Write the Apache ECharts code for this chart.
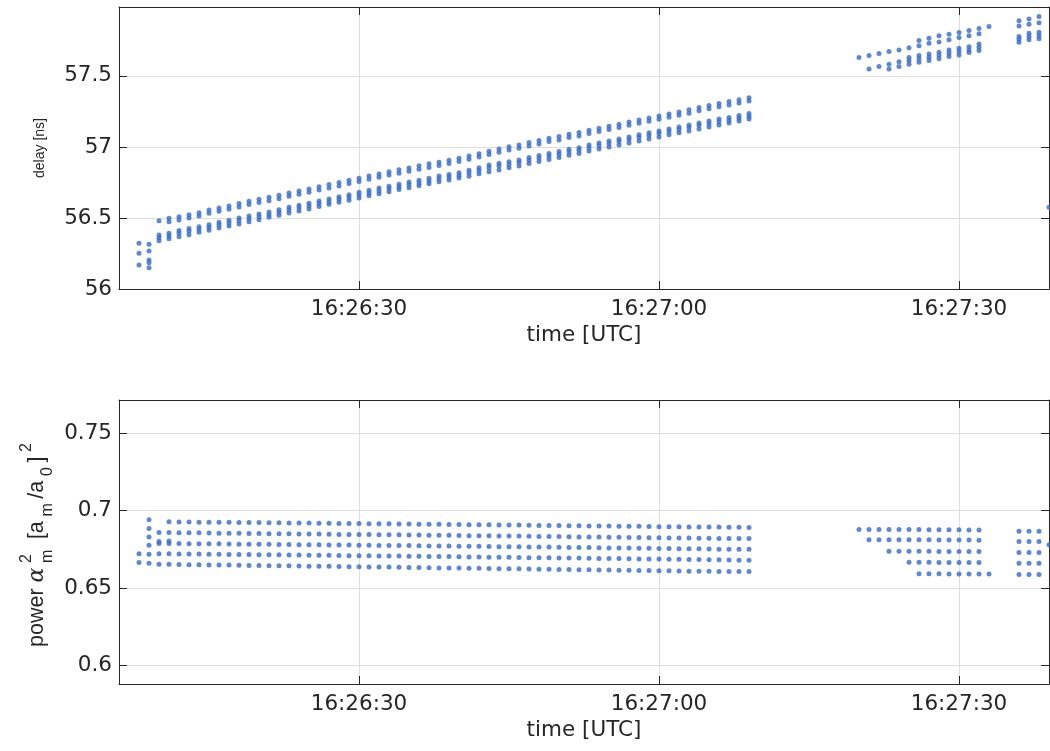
<!DOCTYPE html>
<html><head><meta charset="utf-8">
<script src="https://cdn.jsdelivr.net/npm/echarts@6/dist/echarts.min.js"></script>
<style>html,body{margin:0;padding:0;background:#fff}#c{width:1050px;height:751px}</style>
</head><body><div id="c"></div>
<script>
// x values are seconds after 16:26:00 UTC
const xTickValues = [30, 60, 90];
const xTickLabels = ['16:26:30', '16:27:00', '16:27:30'];
const delayTickValues = [56, 56.5, 57, 57.5];
const delayTickLabels = ['56', '56.5', '57', '57.5'];
const powerTickValues = [0.6, 0.65, 0.7, 0.75];
const powerTickLabels = ['0.6', '0.65', '0.7', '0.75'];

// ---- delay [ns] ----
const delayEarlyCols = [
  [8, 56.322, 56.251, 56.169],
  [9, 56.315, 56.268, 56.204, 56.185, 56.150]
];
const delayUpperAStart = 10;
const delayUpperA = [
  56.481,56.498,56.509,56.523,56.537,56.556,56.570,56.585,56.601,56.617,
  56.631,56.646,56.660,56.676,56.690,56.704,56.720,56.735,56.749,56.765,
  56.780,56.796,56.810,56.826,56.839,56.852,56.867,56.881,56.893,56.907,
  56.921,56.937,56.952,56.970,56.986,57.001,57.014,57.031,57.045,57.061,
  57.073,57.089,57.101,57.117,57.131,57.146,57.160,57.176,57.190,57.204,
  57.218,57.232,57.246,57.261,57.277,57.291,57.305,57.319,57.333,57.347
];
const delayUpperBStart = 11;
const delayUpperB = [
  56.474,56.486,56.500,56.514,56.533,56.547,56.561,56.577,56.594,56.608,
  56.622,56.636,56.653,56.667,56.681,56.697,56.711,56.725,56.742,56.756,
  56.773,56.787,56.802,56.815,56.828,56.843,56.856,56.869,56.883,56.898,
  56.913,56.929,56.947,56.962,56.978,56.991,57.007,57.021,57.038,57.049,
  57.066,57.077,57.094,57.108,57.122,57.136,57.153,57.167,57.181,57.195,
  57.209,57.223,57.237,57.254,57.268,57.282,57.296,57.310,57.324
];
const delayLowerStart = 10;
const delayLowerC = [
  56.380,56.392,56.411,56.425,56.439,56.453,56.470,56.484,56.500,56.514,
  56.528,56.542,56.558,56.575,56.589,56.604,56.620,56.634,56.650,56.664,
  56.681,56.695,56.711,56.724,56.737,56.753,56.766,56.779,56.795,56.806,
  56.818,56.836,56.854,56.872,56.885,56.895,56.908,56.925,56.939,56.953,
  56.967,56.984,56.995,57.014,57.028,57.042,57.056,57.070,57.085,57.099,
  57.113,57.127,57.141,57.155,57.169,57.183,57.197,57.207,57.221,57.235
];
const delayLowerD = [
  56.361,56.373,56.392,56.406,56.420,56.434,56.451,56.465,56.481,56.495,
  56.509,56.523,56.540,56.556,56.570,56.585,56.601,56.615,56.632,56.646,
  56.662,56.676,56.692,56.705,56.718,56.734,56.747,56.760,56.776,56.788,
  56.799,56.817,56.835,56.853,56.866,56.877,56.890,56.906,56.920,56.934,
  56.948,56.965,56.977,56.995,57.009,57.023,57.038,57.052,57.066,57.080,
  57.094,57.108,57.122,57.136,57.150,57.164,57.178,57.188,57.202,57.216
];
const delayLowerE = [
  56.340,56.354,56.368,56.382,56.399,56.413,56.430,56.444,56.458,56.474,
  56.488,56.505,56.519,56.535,56.549,56.563,56.580,56.596,56.611,56.625,
  56.641,56.657,56.671,56.684,56.700,56.713,56.726,56.741,56.755,56.768,
  56.781,56.794,56.812,56.825,56.838,56.853,56.866,56.883,56.897,56.911,
  56.925,56.941,56.953,56.972,56.986,57.000,57.014,57.028,57.042,57.056,
  57.070,57.085,57.099,57.113,57.127,57.141,57.155,57.169,57.183,57.197
];
const delayLateCols = [
  [80, 57.629],
  [81, 57.643, 57.549],
  [82, 57.657, 57.566],
  [83, 57.671, 57.582, 57.549],
  [84, 57.683, 57.599, 57.566],
  [85, 57.699, 57.629, 57.606, 57.582],
  [86, 57.749, 57.713, 57.643, 57.620, 57.596],
  [87, 57.765, 57.730, 57.655, 57.632, 57.608],
  [88, 57.782, 57.739, 57.667, 57.643, 57.620],
  [89, 57.794, 57.754, 57.683, 57.660, 57.636],
  [90, 57.805, 57.770, 57.695, 57.671, 57.648],
  [91, 57.819, 57.782, 57.706, 57.683, 57.664],
  [92, 57.833, 57.796, 57.725, 57.702, 57.678],
  [93, 57.847],
  [96, 57.889, 57.852, 57.777, 57.758, 57.737],
  [97, 57.901, 57.864, 57.801, 57.777, 57.754],
  [98, 57.918, 57.875, 57.808, 57.784, 57.761],
  [99, 56.575]
];

// ---- power ----
const powerEarlyCols = [
  [8, 0.6721, 0.6665],
  [9, 0.6940, 0.6884, 0.6830, 0.6776, 0.6718, 0.6660],
  [10, 0.6800],
  [11, 0.6804]
];
const powerRow1Start = 11;
const powerRow1 = [
  0.6927,0.6926,0.6926,0.6925,0.6925, 0.6924,0.6924,0.6923,0.6922,0.6922,
  0.6921,0.6921,0.6920,0.6919,0.6919, 0.6918,0.6918,0.6917,0.6916,0.6916,
  0.6915,0.6915,0.6914,0.6913,0.6913, 0.6912,0.6912,0.6911,0.6910,0.6910,
  0.6909,0.6908,0.6908,0.6907,0.6906, 0.6906,0.6905,0.6904,0.6904,0.6903,
  0.6902,0.6902,0.6901,0.6900,0.6900, 0.6899,0.6898,0.6898,0.6897,0.6896,
  0.6896,0.6895,0.6894,0.6894,0.6893, 0.6893,0.6892,0.6892,0.6891
];
const powerRowsStart = 10;
const powerRow2 = [
  0.6858,0.6858,0.6857,0.6856,0.6856, 0.6855,0.6854,0.6854,0.6853,0.6852,
  0.6852,0.6851,0.6850,0.6850,0.6849, 0.6848,0.6848,0.6847,0.6846,0.6846,
  0.6845,0.6845,0.6844,0.6843,0.6843, 0.6842,0.6842,0.6841,0.6841,0.6840,
  0.6839,0.6838,0.6838,0.6837,0.6836, 0.6835,0.6835,0.6834,0.6833,0.6832,
  0.6832,0.6831,0.6830,0.6829,0.6829, 0.6828,0.6827,0.6826,0.6826,0.6825,
  0.6824,0.6823,0.6823,0.6822,0.6821, 0.6821,0.6820,0.6820,0.6819,0.6819
];
const powerRow3 = [
  0.6787,0.6787,
  0.6787,0.6786,0.6786,0.6785,0.6785, 0.6784,0.6783,0.6783,0.6782,0.6782,
  0.6781,0.6781,0.6780,0.6779,0.6779, 0.6778,0.6778,0.6777,0.6776,0.6776,
  0.6775,0.6775,0.6774,0.6774,0.6773, 0.6772,0.6772,0.6771,0.6770,0.6770,
  0.6769,0.6768,0.6767,0.6767,0.6766, 0.6765,0.6764,0.6764,0.6763,0.6762,
  0.6761,0.6761,0.6760,0.6759,0.6758, 0.6758,0.6757,0.6756,0.6755,0.6755,
  0.6754,0.6753,0.6753,0.6752,0.6751, 0.6751,0.6750,0.6750
];
const powerRow4 = [
  0.6721,0.6721,0.6720,0.6719,0.6719, 0.6718,0.6718,0.6717,0.6716,0.6716,
  0.6715,0.6714,0.6714,0.6713,0.6713, 0.6712,0.6711,0.6711,0.6710,0.6709,
  0.6709,0.6708,0.6707,0.6707,0.6706, 0.6705,0.6705,0.6704,0.6703,0.6703,
  0.6702,0.6701,0.6700,0.6699,0.6699, 0.6698,0.6697,0.6696,0.6696,0.6695,
  0.6694,0.6693,0.6693,0.6692,0.6691, 0.6690,0.6690,0.6689,0.6688,0.6687,
  0.6687,0.6686,0.6685,0.6684,0.6684, 0.6683,0.6682,0.6681,0.6680,0.6679
];
const powerRow5 = [
  0.6654,0.6653,0.6652,0.6651,0.6650, 0.6649,0.6649,0.6648,0.6647,0.6646,
  0.6645,0.6644,0.6644,0.6643,0.6642, 0.6641,0.6640,0.6640,0.6639,0.6638,
  0.6637,0.6636,0.6636,0.6635,0.6634, 0.6633,0.6632,0.6631,0.6630,0.6630,
  0.6629,0.6628,0.6627,0.6626,0.6625, 0.6624,0.6624,0.6623,0.6622,0.6621,
  0.6620,0.6619,0.6618,0.6618,0.6617, 0.6616,0.6615,0.6614,0.6613,0.6613,
  0.6612,0.6611,0.6610,0.6609,0.6609, 0.6608,0.6607,0.6607,0.6606,0.6606
];
const powerLateCols = [
  [80, 0.6878],
  [81, 0.6878, 0.6812],
  [82, 0.6878, 0.6812],
  [83, 0.6877, 0.6811, 0.6737],
  [84, 0.6877, 0.6811, 0.6737],
  [85, 0.6877, 0.6811, 0.6737, 0.6666],
  [86, 0.6877, 0.6811, 0.6737, 0.6666, 0.6592],
  [87, 0.6876, 0.6811, 0.6737, 0.6666, 0.6592],
  [88, 0.6876, 0.6810, 0.6736, 0.6665, 0.6592],
  [89, 0.6876, 0.6810, 0.6736, 0.6665, 0.6591],
  [90, 0.6876, 0.6810, 0.6736, 0.6665, 0.6591],
  [91, 0.6875, 0.6810, 0.6736, 0.6665, 0.6591],
  [92, 0.6875, 0.6809, 0.6735, 0.6664, 0.6591],
  [93, 0.6591],
  [96, 0.6866, 0.6800, 0.6729, 0.6660, 0.6587],
  [97, 0.6866, 0.6800, 0.6729, 0.6660, 0.6587],
  [98, 0.6866, 0.6800, 0.6729, 0.6660, 0.6587],
  [99, 0.6779]
];

// ---- build point lists ----
function fromCols(cols, out) {
  cols.forEach(c => { for (let i = 1; i < c.length; i++) out.push([c[0], c[i]]); });
}
function fromRow(start, arr, out) {
  arr.forEach((v, i) => out.push([start + i, v]));
}
const delayPts = [];
fromCols(delayEarlyCols, delayPts);
fromRow(delayUpperAStart, delayUpperA, delayPts);
fromRow(delayUpperBStart, delayUpperB, delayPts);
fromRow(delayLowerStart, delayLowerC, delayPts);
fromRow(delayLowerStart, delayLowerD, delayPts);
fromRow(delayLowerStart, delayLowerE, delayPts);
fromCols(delayLateCols, delayPts);

const powerPts = [];
fromCols(powerEarlyCols, powerPts);
fromRow(powerRow1Start, powerRow1, powerPts);
[powerRow2, powerRow3, powerRow4, powerRow5].forEach(r => fromRow(powerRowsStart, r, powerPts));
fromCols(powerLateCols, powerPts);

const AX = '#262626', GRID = '#dedede', DOT = '#3a6bbd';
const tickFont = 'DejaVu Sans';
function lab(values, labels) {
  return v => {
    let best = 0;
    values.forEach((t, i) => { if (Math.abs(t - v) < Math.abs(values[best] - v)) best = i; });
    return labels[best];
  };
}
function xAxes(gi) {
  return [{
    type: 'value', gridIndex: gi, min: 6, max: 99, position: 'bottom',
    axisLine: { show: true, onZero: false, lineStyle: { color: AX, width: 1 } },
    axisTick: { show: true, inside: true, length: 8, customValues: xTickValues, lineStyle: { color: AX } },
    axisLabel: { show: true, customValues: xTickValues, formatter: lab(xTickValues, xTickLabels),
      fontFamily: tickFont, fontSize: 21.5, color: AX, margin: 9 },
    splitLine: { show: true, lineStyle: { color: GRID, width: 1 } },
    name: 'time [UTC]', nameLocation: 'middle', nameGap: 35,
    nameTextStyle: { fontFamily: tickFont, fontSize: 21.5, color: AX }
  }, {
    type: 'value', gridIndex: gi, min: 6, max: 99, position: 'top',
    axisLine: { show: true, onZero: false, lineStyle: { color: AX, width: 1 } },
    axisTick: { show: true, inside: true, length: 8, customValues: xTickValues, lineStyle: { color: AX } },
    axisLabel: { show: false }, splitLine: { show: false }
  }];
}
function yAxes(gi, min, max, values, labels, nameObj) {
  const left = Object.assign({
    type: 'value', gridIndex: gi, min: min, max: max, position: 'left',
    axisLine: { show: true, onZero: false, lineStyle: { color: AX, width: 1 } },
    axisTick: { show: true, inside: true, length: 8, customValues: values, lineStyle: { color: AX } },
    axisLabel: { show: true, customValues: values, formatter: lab(values, labels),
      fontFamily: tickFont, fontSize: 21.5, color: AX, margin: 7 },
    splitLine: { show: true, lineStyle: { color: GRID, width: 1 } }
  }, nameObj || {});
  const right = {
    type: 'value', gridIndex: gi, min: min, max: max, position: 'right',
    axisLine: { show: true, onZero: false, lineStyle: { color: AX, width: 1 } },
    axisTick: { show: true, inside: true, length: 8, customValues: values, lineStyle: { color: AX } },
    axisLabel: { show: false }, splitLine: { show: false }
  };
  return [left, right];
}

// rotated y label for the power plot, built from text pieces
const mctx = document.createElement('canvas').getContext('2d');
function tw(font, s) { mctx.font = font; return mctx.measureText(s).width; }
const fMain = '21.5px "Liberation Sans"';
const fGreek = 'italic 22px "DejaVu Serif"';
const fSmall = '16px "Liberation Sans"';
const SUP = -10, SUB = 11, GAP = 4.6;
const pieces = [
  { t: 'power ', f: fMain, dy: 0 },
  { t: 'α', f: fGreek, dy: 0 },
  { stack: [{ t: '2', f: fSmall, dy: SUP }, { t: 'm', f: fSmall, dy: SUB }] },
  { t: ' [a', f: fMain, dy: 0 },
  { t: 'm', f: fSmall, dy: SUB },
  { t: '/a', f: fMain, dy: 0 },
  { t: '0', f: fSmall, dy: SUB },
  { t: ']', f: fMain, dy: 0 },
  { t: '2', f: fSmall, dy: SUP }
];
const labelChildren = [];
let cur = 0;
pieces.forEach((p, k) => {
  const items = p.stack || [p];
  let wmax = 0;
  items.forEach(it => {
    labelChildren.push({ type: 'text', x: cur, y: it.dy,
      style: { text: it.t, font: it.f, fill: AX, align: 'left', verticalAlign: 'middle', textAlign: 'left', textVerticalAlign: 'middle' } });
    wmax = Math.max(wmax, tw(it.f, it.t));
  });
  cur += wmax + (k > 0 ? GAP : 0);
});

const chart = echarts.init(document.getElementById('c'), null, { renderer: 'canvas' });
const ya0 = yAxes(0, 56, 57.985, delayTickValues, delayTickLabels, {
  name: 'delay [ns]', nameLocation: 'middle', nameRotate: 90, nameGap: 72,
  nameTextStyle: { fontFamily: 'Liberation Sans', fontSize: 14, color: AX }
});
const ya1 = yAxes(1, 0.5881, 0.7713, powerTickValues, powerTickLabels, null);
chart.setOption({
  animation: false,
  backgroundColor: '#ffffff',
  grid: [
    { left: 119, top: 7, width: 930, height: 282 },
    { left: 119, top: 400, width: 930, height: 284 }
  ],
  xAxis: xAxes(0).concat(xAxes(1)),
  yAxis: ya0.concat(ya1),
  series: [
    { type: 'scatter', xAxisIndex: 0, yAxisIndex: 0, data: delayPts, symbol: 'circle', symbolSize: 5,
      itemStyle: { color: DOT }, silent: true },
    { type: 'scatter', xAxisIndex: 2, yAxisIndex: 2, data: powerPts, symbol: 'circle', symbolSize: 5,
      itemStyle: { color: DOT }, silent: true }
  ],
  graphic: [
    { type: 'group', x: 37, y: 647, rotation: Math.PI / 2, children: labelChildren }
  ]
});
</script>
</body></html>
